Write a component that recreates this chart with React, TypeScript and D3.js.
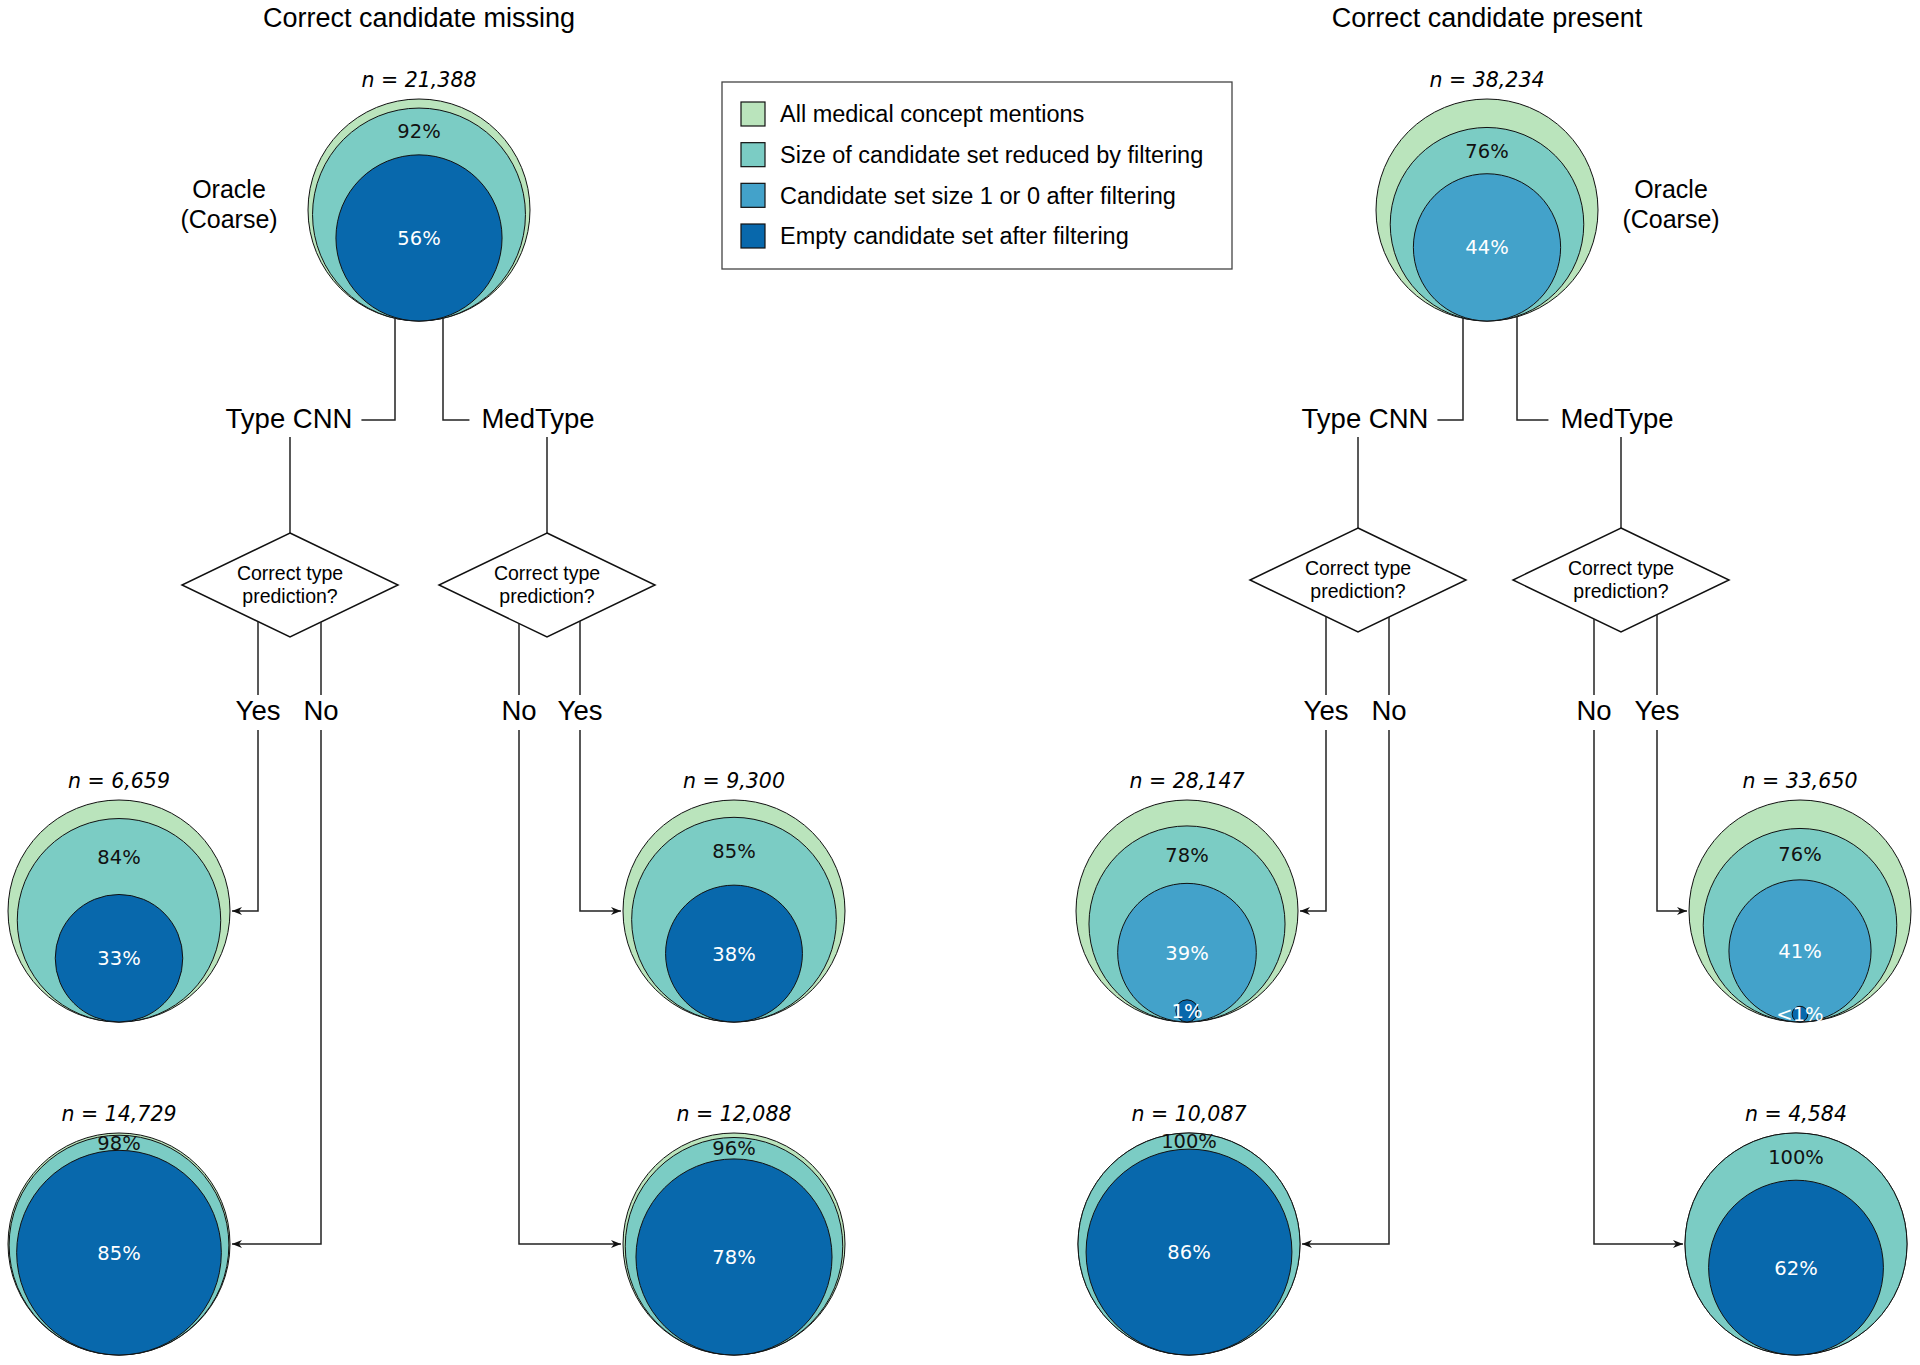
import React, { useEffect, useRef } from "react";
import * as d3 from "d3";

// ---- data ----
const panelTitles = ["Correct candidate missing", "Correct candidate present"];
const legendLabels = [
  "All medical concept mentions",
  "Size of candidate set reduced by filtering",
  "Candidate set size 1 or 0 after filtering",
  "Empty candidate set after filtering",
];
const modelNames = ["Type CNN", "MedType"];
const questionLines = ["Correct type", "prediction?"];

// node order in each panel: oracle, cnn yes, cnn no, medtype yes, medtype no
const nodeKeys = ["oracle", "cnnYes", "cnnNo", "medYes", "medNo"];
const missingN = [21388, 6659, 14729, 9300, 12088];
const missingReduced = [92, 84, 98, 85, 96];
const missingEmpty = [56, 33, 85, 38, 78];
const presentN = [38234, 28147, 10087, 33650, 4584];
const presentReduced = [76, 78, 100, 76, 100];
const presentOneOrZero = [44, 39, 0, 41, 0];
const presentEmpty = [0, 1, 86, 0.5, 62];
const presentEmptyLabels = ["", "1%", "86%", "<1%", "62%"];

// ---- layout / style ----
const W = 1920;
const H = 1365;
const R = 111;
const colors = ["#bae4bc", "#7bccc4", "#43a2ca", "#0868ac"];
const SANS = "'Liberation Sans', Arial, Helvetica, sans-serif";
const PCT = "'DejaVu Sans', Verdana, sans-serif";
const LINE = "#222";

const panels = [
  {
    titleX: 419,
    oracleX: 419,
    oracleTextX: 229,
    stems: [395, 443],
    modelX: [290, 547],
    modelTextX: [289, 538],
    diamondY: 585,
    branchDx: [
      [-32, 31],
      [33, -28],
    ],
    nodeX: { cnnYes: 119, cnnNo: 119, medYes: 734, medNo: 734 } as Record<string, number>,
  },
  {
    titleX: 1487,
    oracleX: 1487,
    oracleTextX: 1671,
    stems: [1463, 1517],
    modelX: [1358, 1621],
    modelTextX: [1365, 1617],
    diamondY: 580,
    branchDx: [
      [-32, 31],
      [36, -27],
    ],
    nodeX: { cnnYes: 1187, cnnNo: 1189, medYes: 1800, medNo: 1796 } as Record<string, number>,
  },
];
const rowBottom: Record<string, number> = { oracle: 321, yes: 1022, no: 1355 };

interface ILayer {
  pct: number;
  color: string;
  label: string;
  dark: boolean;
}

function App() {
  const ref = useRef<SVGSVGElement | null>(null);

  useEffect(() => {
    const svg = d3.select(ref.current);
    svg.selectAll("*").remove();

    const rScale = d3.scaleSqrt().domain([0, 100]).range([0, R]);
    const fmt = d3.format(",");

    svg
      .append("defs")
      .append("marker")
      .attr("id", "arr")
      .attr("viewBox", "0 0 10 10")
      .attr("refX", 10)
      .attr("refY", 5)
      .attr("markerWidth", 13)
      .attr("markerHeight", 10)
      .attr("markerUnits", "userSpaceOnUse")
      .attr("orient", "auto")
      .append("path")
      .attr("d", "M0,1 L10,5 L0,9 L3,5 Z")
      .attr("fill", "#111");

    const drawNode = (cx: number, bottom: number, n: number, layers: ILayer[]) => {
      const g = svg.append("g");
      const top = bottom - 2 * R;
      g.append("text")
        .attr("x", cx)
        .attr("y", top - 12)
        .attr("text-anchor", "middle")
        .attr("font-family", PCT)
        .attr("font-style", "italic")
        .attr("font-size", 20.5)
        .text(`n = ${fmt(n)}`);

      const shown = layers.filter((l) => l.pct > 0);
      shown.forEach((l) => {
        const r = rScale(l.pct);
        g.append("circle")
          .attr("cx", cx)
          .attr("cy", bottom - r)
          .attr("r", r)
          .attr("fill", l.color)
          .attr("stroke", "#111")
          .attr("stroke-width", 1);
      });
      shown.forEach((l, i) => {
        if (!l.label) return;
        const r = rScale(l.pct);
        let y = bottom - r;
        if (!l.dark) {
          const t1 = bottom - 2 * r;
          const next = shown[i + 1];
          const t2 = next ? bottom - 2 * rScale(next.pct) : bottom;
          y = (t1 + t2) / 2;
        }
        g.append("text")
          .attr("x", cx)
          .attr("y", y)
          .attr("dy", "0.36em")
          .attr("text-anchor", "middle")
          .attr("font-family", PCT)
          .attr("font-size", 19.5)
          .attr("fill", l.dark ? "#fff" : "#111")
          .text(l.label);
      });
    };

    const layersFor = (p: number, i: number): ILayer[] => {
      if (p === 0) {
        return [
          { pct: 100, color: colors[0], label: "", dark: false },
          { pct: missingReduced[i], color: colors[1], label: `${missingReduced[i]}%`, dark: false },
          { pct: missingEmpty[i], color: colors[3], label: `${missingEmpty[i]}%`, dark: true },
        ];
      }
      return [
        { pct: 100, color: colors[0], label: "", dark: false },
        { pct: presentReduced[i], color: colors[1], label: `${presentReduced[i]}%`, dark: false },
        { pct: presentOneOrZero[i], color: colors[2], label: `${presentOneOrZero[i]}%`, dark: true },
        { pct: presentEmpty[i], color: colors[3], label: presentEmptyLabels[i], dark: true },
      ];
    };

    panels.forEach((P, p) => {
      const nValues = p === 0 ? missingN : presentN;

      // panel title
      svg
        .append("text")
        .attr("x", P.titleX)
        .attr("y", 27)
        .attr("text-anchor", "middle")
        .attr("font-family", SANS)
        .attr("font-size", 27)
        .text(panelTitles[p]);

      // oracle label
      ["Oracle", "(Coarse)"].forEach((t, k) =>
        svg
          .append("text")
          .attr("x", P.oracleTextX)
          .attr("y", 198 + k * 30)
          .attr("text-anchor", "middle")
          .attr("font-family", SANS)
          .attr("font-size", 25)
          .text(t)
      );

      // connectors from oracle to model names
      const oracleCy = rowBottom.oracle - R;
      modelNames.forEach((name, m) => {
        const sx = P.stems[m];
        const sy = oracleCy + Math.sqrt(R * R - (sx - P.oracleX) ** 2);
        const label = svg
          .append("text")
          .attr("x", P.modelTextX[m])
          .attr("y", 428)
          .attr("text-anchor", "middle")
          .attr("font-family", SANS)
          .attr("font-size", 27.5)
          .text(name);
        const bb = (label.node() as SVGTextElement).getBBox();
        const ex = m === 0 ? bb.x + bb.width + 9 : bb.x - 12;
        svg
          .append("path")
          .attr("d", `M${sx},${sy} V420 H${ex}`)
          .attr("fill", "none")
          .attr("stroke", LINE)
          .attr("stroke-width", 1.5);

        // stem down to diamond
        const dx = P.modelX[m];
        const hw = 108;
        const hh = 52;
        const dy = P.diamondY;
        svg
          .append("line")
          .attr("x1", dx)
          .attr("x2", dx)
          .attr("y1", 437)
          .attr("y2", dy - hh)
          .attr("stroke", LINE)
          .attr("stroke-width", 1.5);
        svg
          .append("polygon")
          .attr("points", `${dx},${dy - hh} ${dx + hw},${dy} ${dx},${dy + hh} ${dx - hw},${dy}`)
          .attr("fill", "#fff")
          .attr("stroke", "#111")
          .attr("stroke-width", 1.5);
        questionLines.forEach((t, k) =>
          svg
            .append("text")
            .attr("x", dx)
            .attr("y", dy - 12 + k * 23)
            .attr("dy", "0.36em")
            .attr("text-anchor", "middle")
            .attr("font-family", SANS)
            .attr("font-size", 19.5)
            .text(t)
        );

        // branches: index 0 = Yes, 1 = No
        ["Yes", "No"].forEach((bl, b) => {
          const off = P.branchDx[m][b];
          const bx = dx + off;
          const by = dy + hh * (1 - Math.abs(off) / hw);
          const key = (m === 0 ? "cnn" : "med") + bl;
          const nodeIdx = nodeKeys.indexOf(key);
          const tx = P.nodeX[key];
          const ty = rowBottom[b === 0 ? "yes" : "no"] - R;
          const dir = tx > bx ? -1 : 1;
          const endX = tx + dir * (R + 2);
          svg
            .append("line")
            .attr("x1", bx)
            .attr("x2", bx)
            .attr("y1", by)
            .attr("y2", 695)
            .attr("stroke", LINE)
            .attr("stroke-width", 1.5);
          svg
            .append("text")
            .attr("x", bx)
            .attr("y", 720)
            .attr("text-anchor", "middle")
            .attr("font-family", SANS)
            .attr("font-size", 27.5)
            .text(bl);
          svg
            .append("path")
            .attr("d", `M${bx},730 V${ty} H${endX}`)
            .attr("fill", "none")
            .attr("stroke", LINE)
            .attr("stroke-width", 1.5)
            .attr("marker-end", "url(#arr)");
          drawNode(tx, rowBottom[b === 0 ? "yes" : "no"], nValues[nodeIdx], layersFor(p, nodeIdx));
        });
      });

      drawNode(P.oracleX, rowBottom.oracle, nValues[0], layersFor(p, 0));
    });

    // legend
    const lg = svg.append("g");
    lg.append("rect")
      .attr("x", 722)
      .attr("y", 82)
      .attr("width", 510)
      .attr("height", 187)
      .attr("fill", "#fff")
      .attr("stroke", "#444")
      .attr("stroke-width", 1.3);
    const ly = d3.scalePoint<string>().domain(legendLabels).range([114, 236]);
    legendLabels.forEach((t, i) => {
      const y = ly(t) as number;
      lg.append("rect")
        .attr("x", 741)
        .attr("y", y - 12)
        .attr("width", 24)
        .attr("height", 24)
        .attr("fill", colors[i])
        .attr("stroke", "#111")
        .attr("stroke-width", 1.2);
      lg.append("text")
        .attr("x", 780)
        .attr("y", y)
        .attr("dy", "0.35em")
        .attr("font-family", SANS)
        .attr("font-size", 23.5)
        .text(t);
    });

    return () => {
      svg.selectAll("*").remove();
    };
  }, []);

  return (
    <div style={{ position: "absolute", left: 0, top: 0, background: "#fff" }}>
      <svg ref={ref} width={W} height={H} style={{ display: "block" }} />
    </div>
  );
}

export default App;
